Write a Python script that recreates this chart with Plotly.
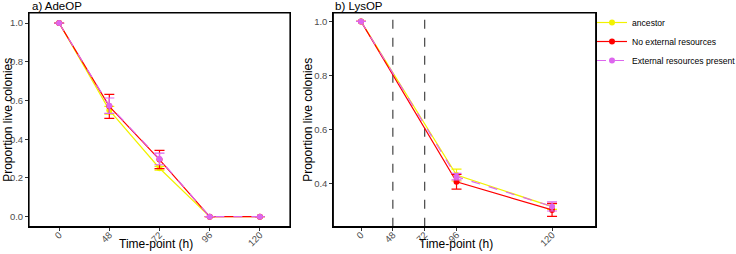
import plotly.graph_objects as go

# ---- data ----
series_names = ["ancestor", "No external resources", "External resources present"]
series_colors = ["#F2F200", "#FF0000", "#DD66EE"]
series_dash = ["solid", "solid", "dash"]

time_a = ["0", "48", "72", "96", "120"]
ade_mean = {
    "ancestor": [1.0, 0.55, 0.25, 0.0, 0.0],
    "No external resources": [1.0, 0.57, 0.295, 0.0, 0.0],
    "External resources present": [1.0, 0.573, 0.298, 0.0, 0.0],
}
ade_err = {
    "ancestor": [0.0, 0.02, 0.01, 0.0, 0.0],
    "No external resources": [0.0, 0.062, 0.047, 0.0, 0.0],
    "External resources present": [0.0, 0.04, 0.03, 0.0, 0.0],
}

time_b = [0, 96, 120]
time_b_pos = [0, 1, 2]
tick_b_labels = ["0", "48", "72", "96", "120"]
tick_b_pos = [0, 1 / 3, 2 / 3, 1, 2]
vline_b_pos = [1 / 3, 2 / 3]
lys_mean = {
    "ancestor": [1.0, 0.432, 0.315],
    "No external resources": [1.0, 0.407, 0.303],
    "External resources present": [1.0, 0.426, 0.316],
}
lys_err = {
    "ancestor": [0.0, 0.022, 0.01],
    "No external resources": [0.0, 0.027, 0.024],
    "External resources present": [0.0, 0.012, 0.017],
}

FONT = "Liberation Sans, Arial, sans-serif"
fig = go.Figure()

for name, col, dash in zip(series_names, series_colors, series_dash):
    fig.add_trace(go.Scatter(
        x=time_a, y=ade_mean[name], mode="lines+markers", name=name,
        line=dict(color=col, width=1.2, dash=dash),
        marker=dict(color=col, size=6),
        error_y=dict(type="data", array=ade_err[name], color=col, thickness=1.2, width=5),
        xaxis="x", yaxis="y", legendgroup=name, showlegend=True,
    ))
for name, col, dash in zip(series_names, series_colors, series_dash):
    fig.add_trace(go.Scatter(
        x=time_b_pos, y=lys_mean[name], mode="lines+markers", name=name,
        line=dict(color=col, width=1.2, dash=dash),
        marker=dict(color=col, size=6),
        error_y=dict(type="data", array=lys_err[name], color=col, thickness=1.2, width=5),
        xaxis="x2", yaxis="y2", legendgroup=name, showlegend=False,
    ))

for xv in vline_b_pos:
    fig.add_shape(type="line", xref="x2", yref="y2 domain", x0=xv, x1=xv, y0=0, y1=1.01,
                  line=dict(color="#444444", width=1.2, dash="dash"), layer="below")

for xr, yr in [("x domain", "y domain"), ("x2 domain", "y2 domain")]:
    fig.add_shape(type="rect", xref=xr, yref=yr, x0=0, x1=1, y0=0, y1=1,
                  line=dict(color="black", width=1.2), layer="above")

axis_common = dict(showline=True, linecolor="black", linewidth=1, mirror=True,
                   ticks="outside", ticklen=3, tickcolor="#333333", showgrid=False,
                   zeroline=False, tickfont=dict(family=FONT, size=9.5, color="#4D4D4D"))

ydom = [1 - 226.7 / 254, 1 - 13 / 254]
fig.update_layout(
    width=736, height=254, margin=dict(l=0, r=0, t=0, b=0, autoexpand=False),
    paper_bgcolor="white", plot_bgcolor="white",
    font=dict(family=FONT, color="black"),
    xaxis=dict(domain=[29 / 736, 290 / 736], type="category", range=[-0.6, 4.6],
               tickangle=-45, ticklabelstandoff=-5, **axis_common),
    yaxis=dict(domain=ydom, range=[-0.052, 1.052], tickvals=[0, 0.2, 0.4, 0.6, 0.8, 1.0],
               ticktext=["0.0", "0.2", "0.4", "0.6", "0.8", "1.0"], **axis_common),
    xaxis2=dict(domain=[333.3 / 736, 595.7 / 736], range=[-0.29, 2.457],
                tickvals=tick_b_pos, ticktext=tick_b_labels, tickangle=-45,
                ticklabelstandoff=-5, anchor="y2", **axis_common),
    yaxis2=dict(domain=ydom, range=[0.241, 1.031], tickvals=[0.4, 0.6, 0.8, 1.0],
                ticktext=["0.4", "0.6", "0.8", "1.0"], anchor="x2", **axis_common),
    legend=dict(x=592 / 736, xanchor="left", y=1 - 8 / 254, yanchor="top",
                font=dict(family=FONT, size=8.6, color="black"), bgcolor="rgba(0,0,0,0)",
                itemwidth=30, tracegroupgap=0),
    annotations=[
        dict(text="a) AdeOP", x=30 / 736, y=1 - 6 / 254, xref="paper", yref="paper",
             xanchor="left", yanchor="middle", showarrow=False, font=dict(size=11.5)),
        dict(text="b) LysOP", x=333 / 736, y=1 - 6 / 254, xref="paper", yref="paper",
             xanchor="left", yanchor="middle", showarrow=False, font=dict(size=11.5)),
        dict(text="Time-point (h)", x=155.5 / 736, y=1 - 244 / 254, xref="paper",
             yref="paper", xanchor="center", yanchor="middle", showarrow=False, font=dict(size=12)),
        dict(text="Time-point (h)", x=456 / 736, y=1 - 244 / 254, xref="paper",
             yref="paper", xanchor="center", yanchor="middle", showarrow=False, font=dict(size=12)),
        dict(text="Proportion live colonies", x=8 / 736, y=(ydom[0] + ydom[1]) / 2, xref="paper",
             yref="paper", xanchor="center", yanchor="middle", textangle=-90, showarrow=False,
             font=dict(size=12)),
        dict(text="Proportion live colonies", x=308 / 736, y=(ydom[0] + ydom[1]) / 2, xref="paper",
             yref="paper", xanchor="center", yanchor="middle", textangle=-90, showarrow=False,
             font=dict(size=12)),
    ],
)

fig.write_html("out.html")
